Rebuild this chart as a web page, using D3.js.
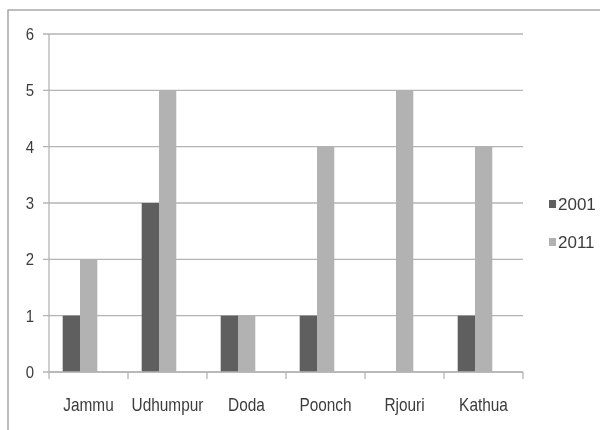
<!DOCTYPE html>
<html>
<head>
<meta charset="utf-8">
<script src="https://cdn.jsdelivr.net/npm/d3@7"></script>
<style>
  html, body { margin: 0; padding: 0; background: #fff; }
  svg { display: block; }
  text { font-family: "Liberation Sans", Arial, sans-serif; fill: #3c3c3c; }
</style>
</head>
<body>
<svg id="chart" width="600" height="430"></svg>
<script>
// Districts and the two census years
const categories = ["Jammu", "Udhumpur", "Doda", "Poonch", "Rjouri", "Kathua"];
const seriesNames = ["2001", "2011"];
const values2001 = [1, 3, 1, 1, 0, 1];
const values2011 = [2, 5, 1, 4, 5, 4];
const yTicks = [0, 1, 2, 3, 4, 5, 6];
const colors = ["#5e5e5e", "#b2b2b2"];

const narrow = 0.88; // horizontal squeeze for a condensed label look

const svg = d3.select("#chart");

// soft rendering filter
svg.append("defs").append("filter")
  .attr("id", "soft")
  .append("feGaussianBlur").attr("stdDeviation", 0.45);

const root = svg.append("g").attr("filter", "url(#soft)");

// outer frame of the chart area
root.append("rect")
  .attr("x", 8).attr("y", 10)
  .attr("width", 620).attr("height", 440)
  .attr("fill", "none")
  .attr("stroke", "#a8a8a8")
  .attr("stroke-width", 1.5);

const plot = { left: 49, right: 523, top: 34, bottom: 372 };

const x = d3.scaleBand().domain(categories).range([plot.left, plot.right]).padding(0);
const y = d3.scaleLinear().domain([0, 6]).range([plot.bottom, plot.top]);

// horizontal gridlines with short ticks left of the axis
root.append("g")
  .selectAll("line")
  .data(yTicks)
  .join("line")
  .attr("x1", plot.left - 6).attr("x2", plot.right)
  .attr("y1", d => y(d)).attr("y2", d => y(d))
  .attr("stroke", "#b4b4b4").attr("stroke-width", 1.3);

// vertical axis line
root.append("line")
  .attr("x1", plot.left).attr("x2", plot.left)
  .attr("y1", plot.top).attr("y2", plot.bottom)
  .attr("stroke", "#b4b4b4").attr("stroke-width", 1.3);

// y tick labels
root.append("g")
  .selectAll("text")
  .data(yTicks)
  .join("text")
  .attr("transform", d => `translate(34,${y(d)}) scale(${narrow},1)`)
  .attr("dy", "0.36em")
  .attr("text-anchor", "end")
  .attr("font-size", 17)
  .text(d => d);

// x axis tick marks at category boundaries
const bounds = categories.map(c => x(c)).concat([plot.right]);
root.append("g")
  .selectAll("line")
  .data(bounds)
  .join("line")
  .attr("x1", d => d).attr("x2", d => d)
  .attr("y1", plot.bottom).attr("y2", plot.bottom + 7)
  .attr("stroke", "#b4b4b4").attr("stroke-width", 1.3);

// category labels
root.append("g")
  .selectAll("text")
  .data(categories)
  .join("text")
  .attr("transform", d => `translate(${x(d) + x.bandwidth() / 2},411) scale(${narrow},1)`)
  .attr("text-anchor", "middle")
  .attr("font-size", 17.5)
  .text(d => d);

// clustered bars
const groupOffset = 13.7;
const groupWidth = 34.6;
const xs = d3.scaleBand().domain(seriesNames).range([0, groupWidth]).padding(0);
const rows = categories.map((c, i) => ({ cat: c, vals: [values2001[i], values2011[i]] }));

const groups = root.append("g")
  .selectAll("g")
  .data(rows)
  .join("g")
  .attr("transform", d => `translate(${x(d.cat) + groupOffset},0)`);

groups.selectAll("rect")
  .data(d => d.vals.map((v, k) => ({ v, s: seriesNames[k], k })))
  .join("rect")
  .attr("x", d => xs(d.s))
  .attr("width", xs.bandwidth())
  .attr("y", d => y(d.v))
  .attr("height", d => y(0) - y(d.v))
  .attr("fill", d => colors[d.k]);

// redraw baseline over the bars
root.append("line")
  .attr("x1", plot.left).attr("x2", plot.right)
  .attr("y1", plot.bottom).attr("y2", plot.bottom)
  .attr("stroke", "#b4b4b4").attr("stroke-width", 1.3);

// legend
const legend = root.append("g")
  .selectAll("g")
  .data(seriesNames)
  .join("g")
  .attr("transform", (d, i) => `translate(549,${200 + i * 38})`);
legend.append("rect")
  .attr("width", 7).attr("height", 8)
  .attr("fill", (d, i) => colors[i]);
legend.append("text")
  .attr("x", 9).attr("y", 10)
  .attr("font-size", 17)
  .text(d => d);
</script>
</body>
</html>
